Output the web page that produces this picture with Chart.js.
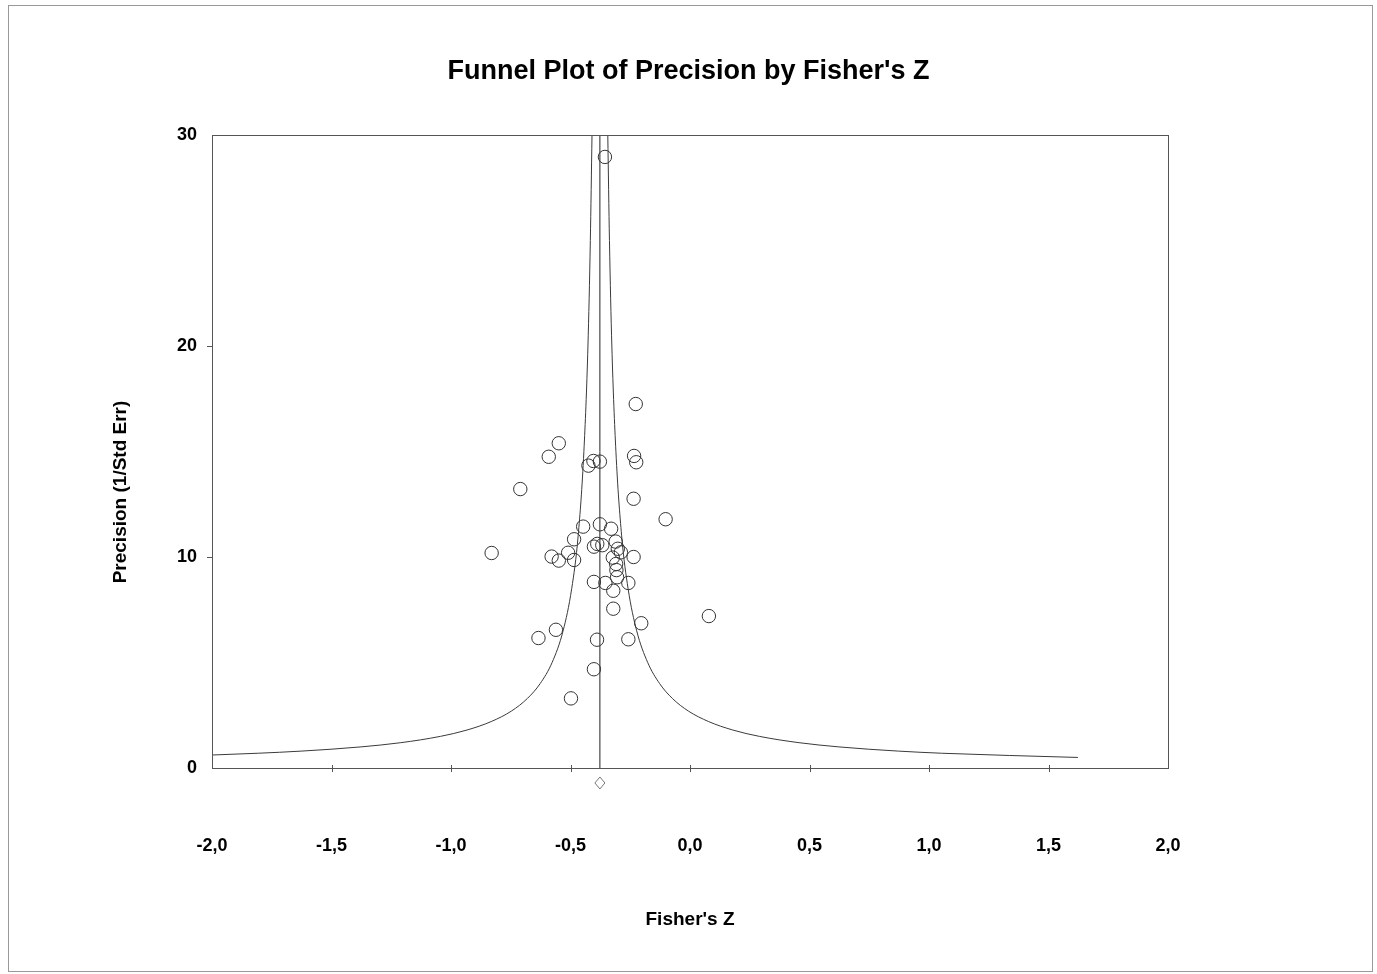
<!DOCTYPE html>
<html>
<head>
<meta charset="utf-8">
<title>Funnel Plot of Precision by Fisher's Z</title>
<script src="https://cdn.jsdelivr.net/npm/chart.js@4.4.1/dist/chart.umd.min.js"></script>
<style>
  body { margin: 0; background: #fff; }
  #frame { position: absolute; left: 8px; top: 5px; width: 1363px; height: 965px; border: 1px solid #999; }
  #myChart { position: absolute; left: 0; top: 0; }
</style>
</head>
<body>
<div id="frame"></div>
<canvas id="myChart" width="1377" height="974"></canvas>
<script>
// studies: Fisher's Z and precision (1/SE)
var studyZ = [
  -0.227, -0.549, -0.591, -0.425, -0.404, -0.377, -0.234, -0.225, -0.710, -0.236,
  -0.102, -0.447, -0.377, -0.330, -0.830, -0.485, -0.579, -0.549, -0.510, -0.485,
  -0.402, -0.388, -0.367, -0.311, -0.302, -0.289, -0.323, -0.236, -0.309, -0.308,
  -0.305, -0.402, -0.354, -0.258, -0.321, -0.321, -0.204, -0.561, -0.634, -0.389,
  -0.258, -0.402, -0.498, 0.079, -0.356
]
var studyPrecision = [
  17.25, 15.39, 14.75, 14.33, 14.55, 14.52, 14.79, 14.49, 13.22, 12.76,
  11.79, 11.44, 11.55, 11.34, 10.19, 10.84, 10.02, 9.83, 10.20, 9.86,
  10.49, 10.62, 10.56, 10.73, 10.39, 10.22, 9.97, 10.00, 9.67, 9.38,
  9.04, 8.82, 8.77, 8.77, 8.40, 7.55, 6.86, 6.55, 6.16, 6.08,
  6.10, 4.68, 3.30, 7.20, 28.96
]

// summary effect (vertical line and diamond)
var summaryZ = -0.377
var diamondY = -0.71

// funnel limits
var funnelLeftZ = [-2.0, -1.806, -1.627, -1.377, -1.21, -1.044, -0.933, -0.832, -0.747, -0.68, -0.627, -0.577, -0.531, -0.495, -0.468, -0.444, -0.427, -0.417, -0.410]
var funnelLeftP = [0.616, 0.7, 0.8, 1.0, 1.2, 1.5, 1.8, 2.2, 2.7, 3.3, 4, 5, 6.5, 8.5, 11, 15, 20, 25, 30]
var funnelRightZ = [-0.344, -0.337, -0.327, -0.310, -0.286, -0.259, -0.223, -0.177, -0.127, -0.074, -0.007, 0.078, 0.179, 0.29, 0.456, 0.623, 0.873, 1.052, 1.623]
var funnelRightP = [30, 25, 20, 15, 11, 8.5, 6.5, 5, 4, 3.3, 2.7, 2.2, 1.8, 1.5, 1.2, 1.0, 0.8, 0.7, 0.5]

var xTicks = [-2, -1.5, -1, -0.5, 0, 0.5, 1, 1.5, 2]
var yTicks = [0, 10, 20, 30]

var fontFamily = 'Liberation Sans, Arial, sans-serif'

function pts(xs, ys) {
  return xs.map(function (x, i) { return { x: x, y: ys[i] } })
}

var lineColor = '#3a3a3a'

// box round the plot area, tick marks, the diamond below the axis and the y title
var frameTicks = {
  id: 'frameTicks',
  afterDraw: function (chart) {
    var a = chart.chartArea
    var ctx = chart.ctx
    var xs = chart.scales.x
    var ys = chart.scales.y
    ctx.save()
    ctx.strokeStyle = '#555'
    ctx.lineWidth = 1
    ctx.strokeRect(Math.round(a.left) + 0.5, Math.round(a.top) + 0.5, Math.round(a.right - a.left), Math.round(a.bottom - a.top))
    ctx.beginPath()
    xTicks.slice(1, -1).forEach(function (v) {
      var px = Math.round(xs.getPixelForValue(v)) + 0.5
      ctx.moveTo(px, a.bottom - 3)
      ctx.lineTo(px, a.bottom + 4)
    })
    yTicks.slice(1, -1).forEach(function (v) {
      var py = Math.round(ys.getPixelForValue(v)) + 0.5
      ctx.moveTo(a.left - 5, py)
      ctx.lineTo(a.left, py)
    })
    ctx.stroke()

    // summary diamond sits under the axis, outside the plot area
    var dx = xs.getPixelForValue(summaryZ)
    var dy = ys.getPixelForValue(diamondY)
    ctx.strokeStyle = '#777'
    ctx.beginPath()
    ctx.moveTo(dx, dy - 6)
    ctx.lineTo(dx + 5, dy)
    ctx.lineTo(dx, dy + 6)
    ctx.lineTo(dx - 5, dy)
    ctx.closePath()
    ctx.stroke()

    // y axis title, set a little lower than the middle like the original
    ctx.fillStyle = '#000'
    ctx.font = 'bold 19px ' + fontFamily
    ctx.textAlign = 'center'
    ctx.textBaseline = 'middle'
    ctx.translate(121, 492)
    ctx.rotate(-Math.PI / 2)
    ctx.fillText('Precision (1/Std Err)', 0, 0)
    ctx.restore()
  }
}

var ctx = document.getElementById('myChart')

var myChart = new Chart(ctx, {
  type: 'scatter',
  data: {
    datasets: [{
      label: 'Studies',
      data: pts(studyZ, studyPrecision),
      pointStyle: 'circle',
      pointRadius: 6.7,
      pointBorderWidth: 1,
      pointBorderColor: '#333',
      pointBackgroundColor: 'rgba(0,0,0,0)',
      showLine: false
    }, {
      label: 'Left limit',
      type: 'line',
      data: pts(funnelLeftZ, funnelLeftP),
      borderColor: lineColor,
      borderWidth: 1,
      pointRadius: 0,
      cubicInterpolationMode: 'monotone',
      fill: false
    }, {
      label: 'Right limit',
      type: 'line',
      data: pts(funnelRightZ, funnelRightP),
      borderColor: lineColor,
      borderWidth: 1,
      pointRadius: 0,
      cubicInterpolationMode: 'monotone',
      fill: false
    }, {
      label: 'Summary',
      type: 'line',
      data: [{ x: summaryZ, y: 0 }, { x: summaryZ, y: 30 }],
      borderColor: '#222',
      borderWidth: 1,
      pointRadius: 0,
      fill: false
    }]
  },
  options: {
    responsive: false,
    animation: false,
    layout: { padding: 0 },
    plugins: {
      legend: { display: false },
      tooltip: { enabled: false },
      title: {
        display: true,
        text: "Funnel Plot of Precision by Fisher's Z",
        color: '#000',
        font: { family: fontFamily, size: 27, weight: 'bold', lineHeight: 1.2 },
        padding: { top: 55.6, bottom: 47 }
      }
    },
    scales: {
      x: {
        type: 'linear',
        min: -2,
        max: 2,
        afterFit: function (scale) { scale.height = 206 },
        afterBuildTicks: function (scale) {
          scale.ticks = xTicks.map(function (v) { return { value: v } })
        },
        grid: { display: false, drawTicks: false },
        border: { display: false },
        ticks: {
          padding: 67,
          color: '#000',
          font: { family: fontFamily, size: 18, weight: 'bold' },
          callback: function (v) { return v.toFixed(1).replace('.', ',') }
        },
        title: {
          display: true,
          text: "Fisher's Z",
          color: '#000',
          font: { family: fontFamily, size: 19, weight: 'bold', lineHeight: 1.2 },
          padding: { top: 0, bottom: 42.8 }
        }
      },
      y: {
        type: 'linear',
        min: 0,
        max: 30,
        afterFit: function (scale) { scale.width = 212 },
        afterBuildTicks: function (scale) {
          scale.ticks = yTicks.map(function (v) { return { value: v } })
        },
        grid: { display: false, drawTicks: false },
        border: { display: false },
        ticks: {
          padding: 15,
          color: '#000',
          font: { family: fontFamily, size: 18, weight: 'bold' }
        }
      },
      // empty axis on the right just to keep the plot area where it is
      yRight: {
        type: 'linear',
        position: 'right',
        min: 0,
        max: 30,
        afterFit: function (scale) { scale.width = 209 },
        grid: { display: false, drawTicks: false },
        border: { display: false },
        ticks: { display: false }
      }
    }
  },
  plugins: [frameTicks]
})
</script>
</body>
</html>
